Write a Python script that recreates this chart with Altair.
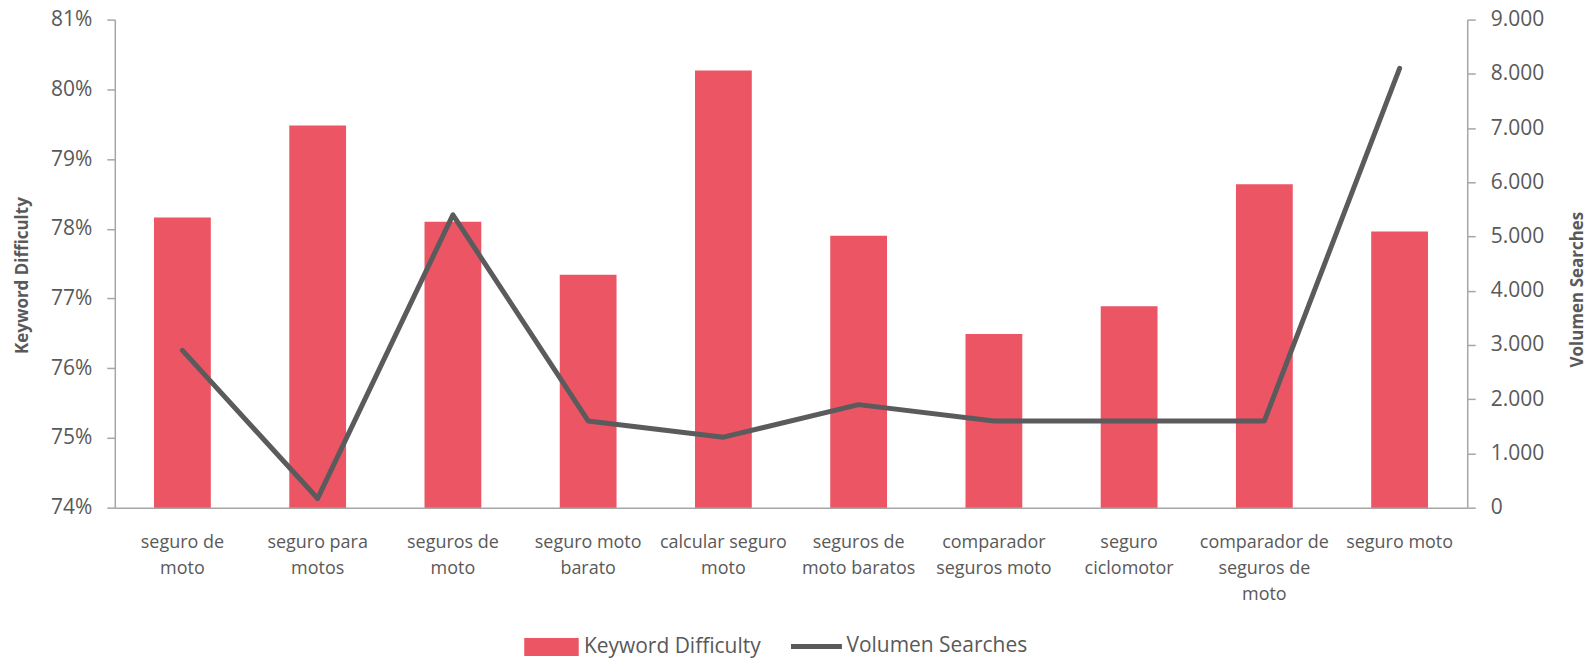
import json
import altair as alt
import pandas as pd

# ---- data ----
label_lines = [
    ["seguro de", "moto"],
    ["seguro para", "motos"],
    ["seguros de", "moto"],
    ["seguro moto", "barato"],
    ["calcular seguro", "moto"],
    ["seguros de", "moto baratos"],
    ["comparador", "seguros moto"],
    ["seguro", "ciclomotor"],
    ["comparador de", "seguros de", "moto"],
    ["seguro moto"],
]
categories = [" ".join(l) for l in label_lines]
keyword_difficulty = [0.7816, 0.7948, 0.7810, 0.7734, 0.8027, 0.7790, 0.7649, 0.7689, 0.7864, 0.7796]
volumen_searches = [2900, 170, 5400, 1600, 1300, 1900, 1600, 1600, 1600, 8100]
left_ticks = [0.74, 0.75, 0.76, 0.77, 0.78, 0.79, 0.80, 0.81]
right_ticks = [0, 1000, 2000, 3000, 4000, 5000, 6000, 7000, 8000, 9000]

df = pd.DataFrame({
    "keyword": categories,
    "kd": keyword_difficulty,
    "vol": volumen_searches,
    "s1": "Keyword Difficulty",
    "s2": "Volumen Searches",
})

FONT = "Open Sans"
TXT = "#595959"
AX = "#A6A6A6"
BAR = "#EC5564"
LINE = "#5B5B5E"

W, H = 1355, 489

label_map = {" ".join(l): l for l in label_lines}
x_label_expr = json.dumps(label_map) + "[datum.value]"

x_enc = alt.X(
    "keyword:N",
    sort=categories,
    title=None,
    scale=alt.Scale(paddingInner=0.58, paddingOuter=0.29),
    axis=alt.Axis(
        labelExpr=x_label_expr,
        labelAngle=0,
        labelFont=FONT,
        labelFontSize=18,
        labelColor=TXT,
        labelLineHeight=26,
        labelPadding=26,
        labelBaseline="top",
        ticks=False,
        tickSize=0,
        domainColor=AX,
        domainWidth=1.5,
        grid=False,
    ),
)

bars = alt.Chart(df).mark_bar().encode(
    x=x_enc,
    y=alt.Y(
        "kd:Q",
        title="Keyword Difficulty",
        scale=alt.Scale(domain=[0.74, 0.81], nice=False, zero=False),
        axis=alt.Axis(
            orient="left",
            values=left_ticks,
            format=".0%",
            labelFont=FONT,
            labelFontSize=21,
            labelColor=TXT,
            labelPadding=15,
            tickSize=8,
            tickColor=AX,
            tickWidth=1.5,
            domainColor=AX,
            domainWidth=1.5,
            grid=False,
            titleFont=FONT,
            titleFontSize=17,
            titleFontWeight="bold",
            titleColor=TXT,
            titleAngle=270,
            titleX=-92,
            titleY=256,
            titleAlign="center",
            titleBaseline="middle",
        ),
    ),
    y2=alt.datum(0.74),
    fill=alt.Fill(
        "s1:N",
        scale=alt.Scale(domain=["Keyword Difficulty"], range=[BAR]),
        legend=alt.Legend(
            title=None,
            orient="none",
            legendX=410,
            legendY=601,
            symbolType="M-1,-0.33L1,-0.33L1,0.33L-1,0.33Z",
            symbolSize=2981,
            symbolStrokeWidth=0,
            labelFont=FONT,
            labelFontSize=21,
            labelColor=TXT,
            labelOffset=5,
            labelLimit=0,
        ),
    ),
)

line = alt.Chart(df).mark_line(strokeWidth=5, strokeCap="round", strokeJoin="round").encode(
    x=x_enc,
    y=alt.Y(
        "vol:Q",
        title="Volumen Searches",
        scale=alt.Scale(domain=[0, 9000], nice=False),
        axis=alt.Axis(
            orient="right",
            values=right_ticks,
            labelExpr="replace(format(datum.value, ','), ',', '.')",
            labelFont=FONT,
            labelFontSize=21,
            labelColor=TXT,
            labelPadding=15,
            tickSize=8,
            tickColor=AX,
            tickWidth=1.5,
            domainColor=AX,
            domainWidth=1.5,
            grid=False,
            titleFont=FONT,
            titleFontSize=17,
            titleFontWeight="bold",
            titleColor=TXT,
            titleAngle=270,
            titleX=110,
            titleY=270,
            titleAlign="center",
            titleBaseline="middle",
        ),
    ),
    stroke=alt.Stroke(
        "s2:N",
        scale=alt.Scale(domain=["Volumen Searches"], range=[LINE]),
        legend=alt.Legend(
            title=None,
            orient="none",
            legendX=675,
            legendY=600,
            symbolType="stroke",
            symbolSize=2601,
            symbolStrokeWidth=5,
            labelFont=FONT,
            labelFontSize=21,
            labelColor=TXT,
            labelOffset=2,
            labelLimit=0,
        ),
    ),
)

chart = (
    alt.layer(bars, line)
    .resolve_scale(y="independent", fill="independent", stroke="independent")
    .properties(
        width=W,
        height=H,
        autosize=alt.AutoSizeParams(type="none"),
        padding={"left": 107, "top": 11, "right": 121, "bottom": 150},
        background="white",
    )
    .configure_view(stroke=None)
)

chart.save("out.html", embed_options={"renderer": "svg", "actions": False})
